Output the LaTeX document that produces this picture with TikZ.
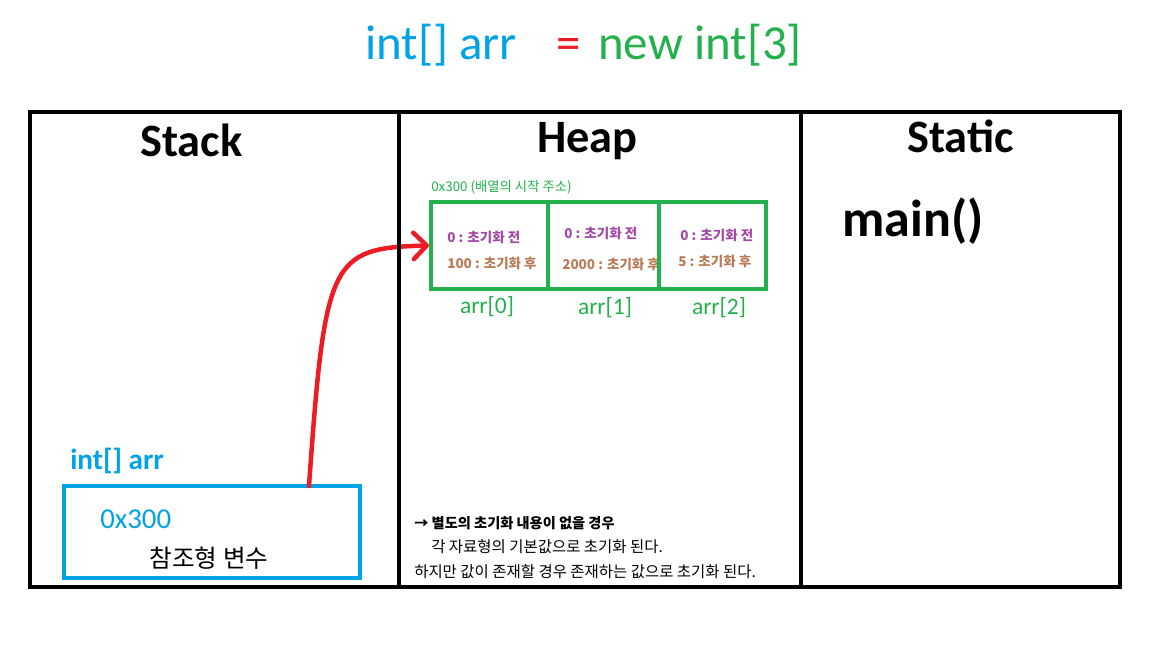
\documentclass[tikz,border=0pt]{standalone}
\usepackage{fontspec}
\setmainfont{Carlito}
\newfontfamily\kor{Noto Sans CJK KR}
\definecolor{pbblue}{RGB}{0,162,232}
\definecolor{pbgreen}{RGB}{34,177,76}
\definecolor{pbred}{RGB}{237,28,36}
\definecolor{pbpurple}{RGB}{163,73,164}
\definecolor{pbbrown}{RGB}{185,122,87}
\usetikzlibrary{arrows.meta,positioning}

\begin{document}
\begin{tikzpicture}[x=0.025cm,y=-0.025cm]
    \tikzset{panel/.style={draw, line width=2.8pt},
      areatitle/.style={font=\fontsize{33}{36}\selectfont\bfseries, anchor=base west, inner sep=0pt},
      codetext/.style={font=\fontsize{34.8}{40}\selectfont, anchor=base west, inner sep=0pt},
      cellbox/.style={draw=pbgreen, line width=2.8pt, minimum height=2.175cm, inner sep=0pt},
      beforeval/.style={font=\kor\bfseries\fontsize{9.6}{11}\selectfont, text=pbpurple, anchor=west, inner sep=0pt},
      afterval/.style={font=\kor\bfseries\fontsize{9.6}{11}\selectfont, text=pbbrown, anchor=west, inner sep=0pt},
      idxlabel/.style={font=\fontsize{16.7}{18}\selectfont, text=pbgreen},
      notetext/.style={font=\kor\fontsize{11}{13}\selectfont, anchor=west, inner sep=0pt},
      ptr/.style={draw=pbred, line width=3.2pt, line cap=round,
        -{Straight Barb[length=3.3mm,width=6.6mm,round]}}}
    \useasboundingbox (0,0) rectangle (1152,648);

    % code line
    \node[codetext, text=pbblue] (decl) at (365,60) {int[] arr};
    \node[codetext, text=pbred] (eq) at (556,60) {=};
    \node[codetext, text=pbgreen] (init) at (598,60) {new int[3]};

    % area titles
    \node[areatitle] (stack) at (140,157) {Stack};
    \node[areatitle] (heap) at (537,153) {Heap};
    \node[areatitle] (static) at (907,153) {Static};
    \node[font=\fontsize{37}{40}\selectfont\bfseries, anchor=base west, inner sep=0pt] (main) at (842,237) {main()};

    % heap: array of 3 ints
    \node[font=\kor\fontsize{9.5}{11}\selectfont, text=pbgreen, anchor=west, inner sep=0pt] (addr) at (431,187) {0x300 (배열의 시작 주소)};
    \node[beforeval] (b0) at (447,237) {0 : 초기화 전};
    \node[afterval] (a0) at (447,263) {100 : 초기화 후};
    \node[beforeval] (b1) at (564,233) {0 : 초기화 전};
    \node[afterval] (a1) at (562,264) {2000 : 초기화 후};
    \node[beforeval] (b2) at (680,235) {0 : 초기화 전};
    \node[afterval] (a2) at (678,261) {5 : 초기화 후};
    \node[cellbox, minimum width=2.925cm] (cell0) at (489.5,245.5) {};
    \node[cellbox, minimum width=2.775cm] (cell1) at (603.5,245.5) {};
    \node[cellbox, minimum width=2.675cm] (cell2) at (712.5,245.5) {};
    \node[idxlabel] (i0) at (487,307) {arr[0]};
    \node[idxlabel] (i1) at (605,308) {arr[1]};
    \node[idxlabel] (i2) at (719,308) {arr[2]};

    % heap note
    \node[notetext, font=\kor\bfseries\fontsize{10.1}{12}\selectfont] (n1) at (414,523) {→ 별도의 초기화 내용이 없을 경우};
    \node[notetext] (n2) at (431,547) {각 자료형의 기본값으로 초기화 된다.};
    \node[notetext] (n3) at (414,572) {하지만 값이 존재할 경우 존재하는 값으로 초기화 된다.};

    % stack: reference variable
    \node[font=\fontsize{20.8}{24}\selectfont\bfseries, text=pbblue, anchor=west, inner sep=0pt] (var) at (70,461) {int[] arr};
    \node[draw=pbblue, line width=2.8pt, minimum width=7.4cm, minimum height=2.3cm] (refbox) at (212,532) {};
    \node[font=\fontsize{20.5}{24}\selectfont, text=pbblue, anchor=west, inner sep=0pt] (val) at (100,519) {0x300};
    \node[font=\kor\fontsize{17.5}{20}\selectfont] (kind) at (209,558) {참조형 변수};

    % pointer
    \coordinate (ptrstart) at (309,486);
    \draw[ptr] (ptrstart) .. controls (325,260) and (330,248) .. (cell0.west);

    % frame
    \draw[panel] (30,112) rectangle (1120,587);
    \draw[panel] (399,112) -- (399,587);
    \draw[panel] (801,112) -- (801,587);
  \end{tikzpicture}
\end{document}
